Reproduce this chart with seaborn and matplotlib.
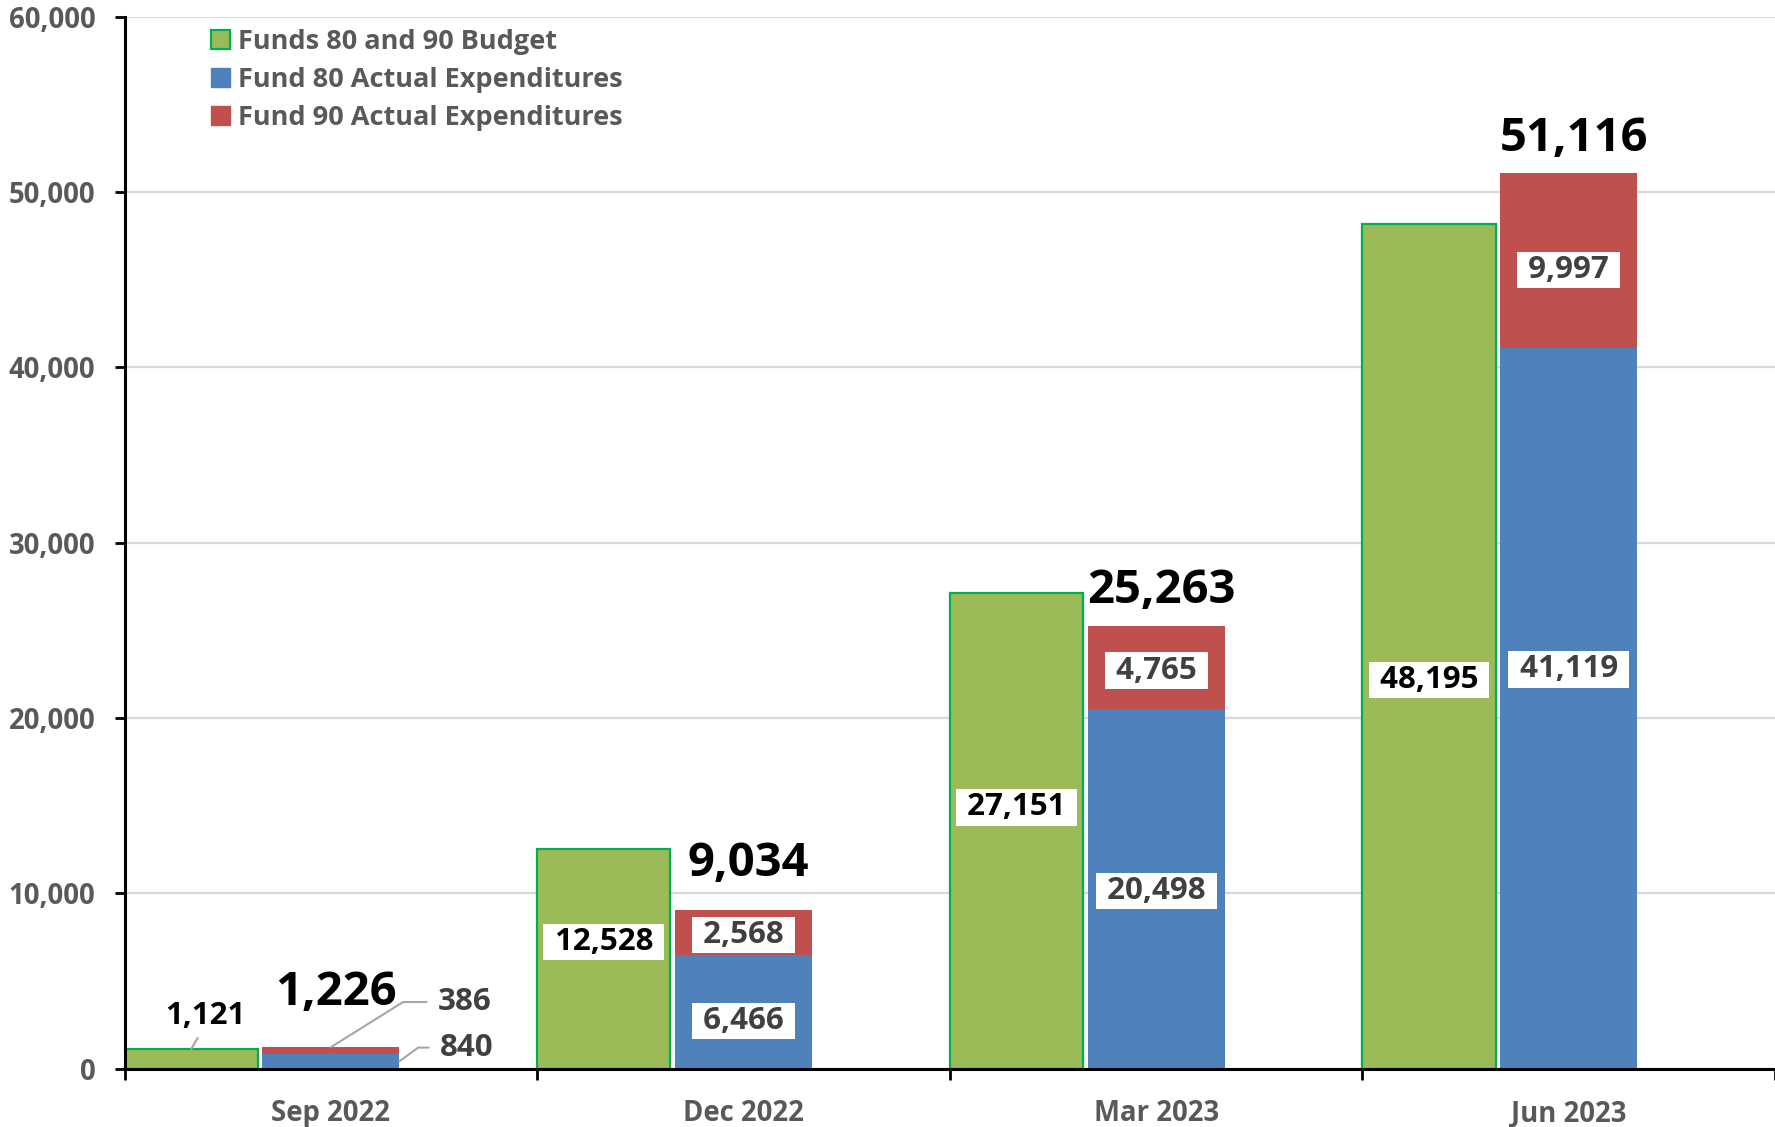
import matplotlib
matplotlib.use("Agg")
import matplotlib.pyplot as plt
from matplotlib.patches import Patch
import numpy as np
import pandas as pd
import seaborn as sns

# ---- data ----
quarters = ["Sep 2022", "Dec 2022", "Mar 2023", "Jun 2023"]
budget = [1121, 12528, 27151, 48195]
fund80 = [840, 6466, 20498, 41119]
fund90 = [386, 2568, 4765, 9997]
series_names = ["Funds 80 and 90 Budget", "Fund 80 Actual Expenditures",
                "Fund 90 Actual Expenditures"]
y_ticks = [0, 10000, 20000, 30000, 40000, 50000, 60000]

# ---- label placement (data units on the value axis) ----
budget_label_y = [None, 7225, 14900, 22190]
fund80_label_y = [None, 2710, 10120, 22770]
fund90_label_y = [None, 7610, 22710, 45540]
total_label_y = [4320, 11675, 27280, 53080]

df = pd.DataFrame({"quarter": quarters, "budget": budget,
                   "fund80": fund80, "fund90": fund90})
df["total"] = df["fund80"] + df["fund90"]

sns.set_theme(style="white")
plt.rcParams["font.family"] = ["Open Sans", "DejaVu Sans"]
plt.rcParams["font.weight"] = "bold"

GREEN, GREEN_EDGE = "#9BBB59", "#00B050"
BLUE, RED = "#4F81BD", "#C0504D"
GRAY_TXT = "#595959"
LABEL_TXT = "#404040"

fig = plt.figure(figsize=(17.75, 11.27), dpi=100)
ax = fig.add_axes([0.0702, 0.0518, 0.9298, 0.9332])

x = np.arange(len(df))
g_left, g_right = -0.5, -0.177
e_half = 0.166
g_w = g_right - g_left
g_center = (g_left + g_right) / 2

ax.bar(x + g_center, df["budget"], width=g_w, color=GREEN,
       edgecolor=GREEN_EDGE, linewidth=1.6, zorder=3)
ax.bar(x, df["fund80"], width=2 * e_half, color=BLUE, linewidth=0, zorder=3)
ax.bar(x, df["fund90"], width=2 * e_half, bottom=df["fund80"], color=RED,
       linewidth=0, zorder=3)

ax.set_xlim(-0.5, len(df) - 0.5)
ax.set_ylim(0, 60000)
ax.set_yticks(y_ticks)
ax.set_yticklabels([f"{v:,}" for v in y_ticks])
ax.set_xticks(x)
ax.set_xticklabels(df["quarter"])
ax.set_xticks(np.arange(len(df) + 1) - 0.5, minor=True)

ax.yaxis.grid(True, color="#D9D9D9", linewidth=1.6, zorder=0)
ax.xaxis.grid(False)
sns.despine(ax=ax, top=True, right=True)
for s in ("left", "bottom"):
    ax.spines[s].set_color("black")
    ax.spines[s].set_linewidth(2.2)
    ax.spines[s].set_zorder(5)

ax.tick_params(axis="y", which="major", left=True, length=7, width=2,
               color="black", pad=14, labelsize=19.8, labelcolor=GRAY_TXT)
ax.tick_params(axis="x", which="major", bottom=False, length=0, pad=22,
               labelsize=19.8, labelcolor=GRAY_TXT)
ax.tick_params(axis="x", which="minor", bottom=True, length=8, width=2,
               color="black")
for lab in ax.get_xticklabels() + ax.get_yticklabels():
    lab.set_fontweight("bold")

box = dict(boxstyle="square,pad=0.1", facecolor="white", edgecolor="none")
FS = 22.5

for i, row in df.iterrows():
    if budget_label_y[i] is not None:
        ax.text(i + g_center, budget_label_y[i], f" {row['budget']:,} ",
                ha="center", va="center", fontsize=FS, fontweight="bold",
                color="black", bbox=box, zorder=6)
    if fund80_label_y[i] is not None:
        ax.text(i, fund80_label_y[i], f" {row['fund80']:,} ",
                ha="center", va="center", fontsize=FS, fontweight="bold",
                color=LABEL_TXT, bbox=box, zorder=6)
    if fund90_label_y[i] is not None:
        ax.text(i, fund90_label_y[i], f" {row['fund90']:,} ",
                ha="center", va="center", fontsize=FS, fontweight="bold",
                color=LABEL_TXT, bbox=box, zorder=6)
    ax.text(i + 0.012, total_label_y[i], f"{row['total']:,}",
            ha="center", va="center", fontsize=34, fontweight="bold",
            color="black", zorder=6)

# small first-quarter values carry leader lines
leader = dict(arrowstyle="-", color="#A6A6A6", linewidth=1.5)
ax.annotate(f"{df['budget'][0]:,}", xy=(g_center, df["budget"][0]),
            xytext=(g_center + 0.035, 2990), ha="center", va="center",
            fontsize=FS, fontweight="bold", color="black",
            arrowprops=dict(leader, shrinkA=3, shrinkB=0,
                            relpos=(0.45, 0.0)), zorder=6)
ax.annotate(f"{df['fund90'][0]:,}", xy=(0.0, df["total"][0]),
            xytext=(0.26, 3800), textcoords="data",
            ha="left", va="center", fontsize=FS, fontweight="bold",
            color=LABEL_TXT,
            arrowprops=dict(leader, shrinkA=6, shrinkB=0, relpos=(0, 0.5),
                            connectionstyle="angle,angleA=0,angleB=32,rad=0"),
            zorder=6)
ax.annotate(f"{df['fund80'][0]:,}", xy=(e_half, df["fund80"][0] / 2),
            xytext=(0.265, 1200), textcoords="data",
            ha="left", va="center", fontsize=FS, fontweight="bold",
            color=LABEL_TXT,
            arrowprops=dict(leader, shrinkA=6, shrinkB=0, relpos=(0, 0.5),
                            connectionstyle="angle,angleA=0,angleB=36,rad=0"),
            zorder=6)

handles = [Patch(facecolor=GREEN, edgecolor=GREEN_EDGE, linewidth=1.6),
           Patch(facecolor=BLUE, edgecolor=BLUE),
           Patch(facecolor=RED, edgecolor=RED)]
leg = ax.legend(handles, series_names, loc="upper left",
                bbox_to_anchor=(211 / 1775, 1 - 29 / 1127),
                bbox_transform=fig.transFigure, frameon=False,
                fontsize=19.5, handlelength=0.7, handleheight=0.7,
                handletextpad=0.3, labelspacing=0.45, borderpad=0,
                borderaxespad=0)
for t in leg.get_texts():
    t.set_color(GRAY_TXT)
    t.set_fontweight("bold")

fig.savefig("out.png", dpi=100)
